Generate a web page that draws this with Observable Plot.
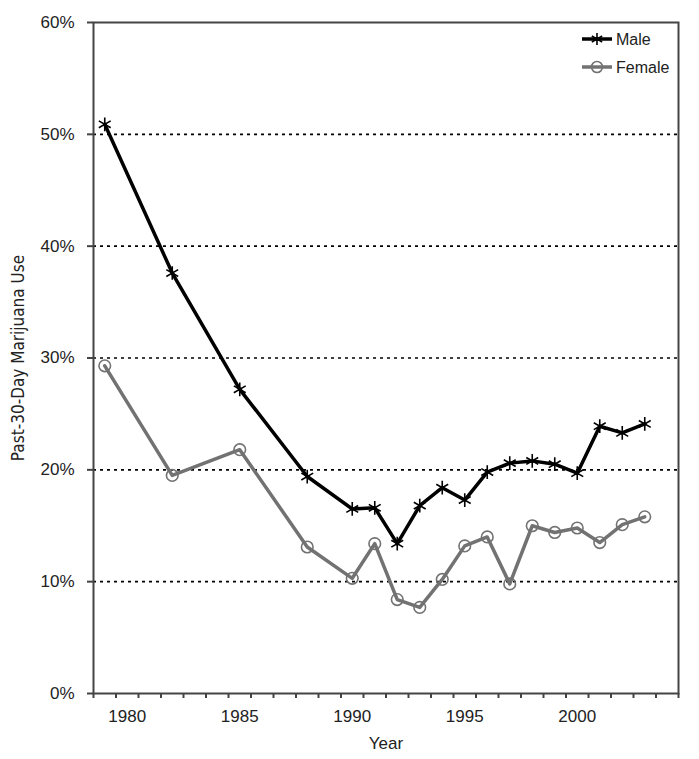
<!DOCTYPE html>
<html>
<head>
<meta charset="utf-8">
<script src="https://cdn.jsdelivr.net/npm/d3@7"></script>
<script src="https://cdn.jsdelivr.net/npm/@observablehq/plot@0.6"></script>
<style>
  html, body { margin: 0; padding: 0; background: #fff; }
  #wrap { position: relative; width: 699px; height: 759px; }
  #legend { position: absolute; left: 0; top: 0; }
</style>
</head>
<body>
<div id="wrap"></div>
<script>
const years = [1979, 1982, 1985, 1988, 1990, 1991, 1992, 1993, 1994, 1995, 1996, 1997, 1998, 1999, 2000, 2001, 2002, 2003];
const male = [50.9, 37.6, 27.2, 19.4, 16.5, 16.6, 13.4, 16.8, 18.4, 17.3, 19.8, 20.6, 20.8, 20.5, 19.7, 23.9, 23.3, 24.1];
const female = [29.3, 19.5, 21.8, 13.1, 10.3, 13.4, 8.4, 7.7, 10.2, 13.2, 14.0, 9.8, 15.0, 14.4, 14.8, 13.5, 15.1, 15.8];
const yTicks = [0, 10, 20, 30, 40, 50, 60];
const gridTicks = [10, 20, 30, 40, 50];
const xLabelYears = [1980, 1985, 1990, 1995, 2000];
const xTickMarks = d3.range(1978.5, 2004.6, 1);
const seriesNames = ["Male", "Female"];
const xTitle = "Year";
const yTitle = "Past-30-Day Marijuana Use";

const maleData = years.map((y, i) => ({year: y, value: male[i]}));
const femaleData = years.map((y, i) => ({year: y, value: female[i]}));

const FEMALE_COLOR = "#727272";
const AXIS_COLOR = "#444";
const FONT = "'Liberation Sans', Arial, Helvetica, sans-serif";

const chart = Plot.plot({
  width: 699,
  height: 759,
  marginLeft: 93,
  marginRight: 21,
  marginTop: 22,
  marginBottom: 66,
  style: {fontFamily: FONT, fontSize: "17px", color: "#222", background: "#fff"},
  x: {domain: [1978.5, 2004.5]},
  y: {domain: [0, 60]},
  marks: [
    Plot.gridY(gridTicks, {stroke: "#000", strokeOpacity: 1, strokeWidth: 1.6, strokeDasharray: "3,4"}),
    Plot.axisY(yTicks, {tickFormat: d => d + "%", tickSize: 6, tickPadding: 13, label: null, stroke: AXIS_COLOR, strokeWidth: 2, fontSize: 17}),
    Plot.axisX(xTickMarks, {tickSize: 5, tickFormat: () => "", label: null, stroke: AXIS_COLOR, strokeWidth: 2}),
    Plot.axisX(xLabelYears, {tickSize: 0, tickPadding: 16, tickFormat: d => String(d), label: null, fontSize: 17}),
    Plot.frame({stroke: AXIS_COLOR, strokeWidth: 2}),
    Plot.text([xTitle], {frameAnchor: "bottom", dy: 50, fontSize: 17, fill: "#222", lineAnchor: "middle"}),
    Plot.text([yTitle], {frameAnchor: "left", dx: -75, rotate: -90, textAnchor: "middle", lineAnchor: "middle", fontSize: 17, fill: "#222",
      fontFamily: "'Liberation Sans Narrow', 'Arial Narrow', 'DejaVu Sans Condensed', sans-serif"}),
    Plot.line(femaleData, {x: "year", y: "value", stroke: FEMALE_COLOR, strokeWidth: 3.5}),
    Plot.dot(femaleData, {x: "year", y: "value", r: 5.8, stroke: FEMALE_COLOR, strokeWidth: 1.6, fill: "none"}),
    Plot.line(maleData, {x: "year", y: "value", stroke: "#000", strokeWidth: 3.5}),
    Plot.dot(maleData, {x: "year", y: "value", symbol: "asterisk", r: 6.5, stroke: "#000", strokeWidth: 1.6})
  ]
});
const wrap = document.getElementById("wrap");
wrap.appendChild(chart);

// Legend overlaid at top-right inside plot
const legend = d3.select(wrap).append("svg")
  .attr("id", "legend")
  .attr("width", 699).attr("height", 90)
  .style("pointer-events", "none");
const items = [
  {name: seriesNames[0], color: "#000", symbol: d3.symbolAsterisk, size: 100},
  {name: seriesNames[1], color: FEMALE_COLOR, symbol: d3.symbolCircle, size: 95}
];
items.forEach((it, i) => {
  const g = legend.append("g").attr("transform", `translate(582, ${39 + i * 28})`);
  g.append("line").attr("x1", 0).attr("x2", 30).attr("y1", 0).attr("y2", 0)
    .attr("stroke", it.color).attr("stroke-width", 3.5);
  g.append("path").attr("transform", "translate(15,0)")
    .attr("d", d3.symbol(it.symbol, it.size)())
    .attr("fill", "none").attr("stroke", it.color).attr("stroke-width", 1.6);
  g.append("text").attr("x", 34).attr("y", 0).attr("dy", "0.35em")
    .attr("font-family", FONT).attr("font-size", 16)
    .attr("fill", "#222").text(it.name);
});
</script>
</body>
</html>
